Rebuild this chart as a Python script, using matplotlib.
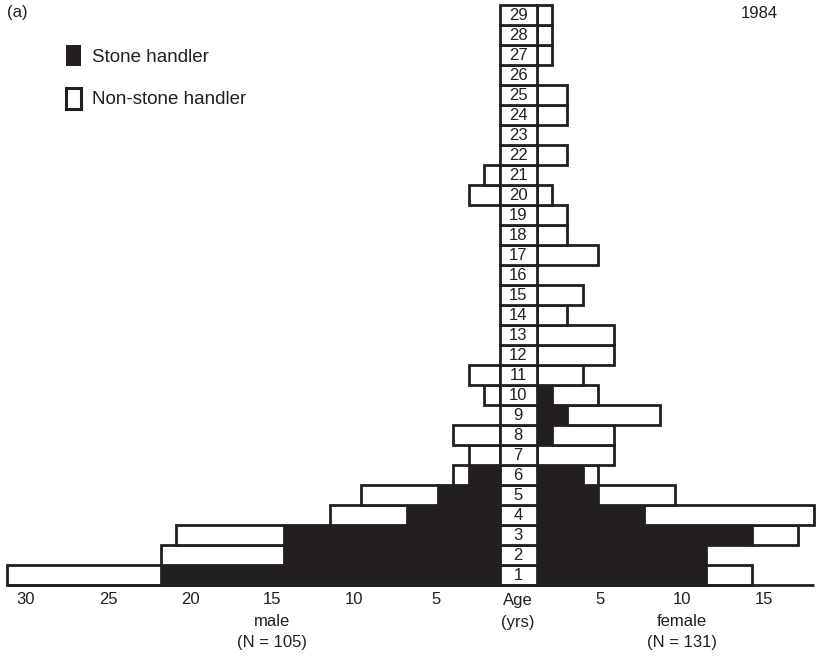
import matplotlib
matplotlib.use("Agg")
import matplotlib.pyplot as plt
from matplotlib.patches import Patch
import numpy as np

plt.rcParams['font.family'] = ['Liberation Sans', 'DejaVu Sans']

ages = list(range(1, 30))
male_stone = [22, 14, 14, 6, 4, 2, 0, 0, 0, 0, 0, 0, 0, 0, 0,
              0, 0, 0, 0, 0, 0, 0, 0, 0, 0, 0, 0, 0, 0]
male_total = [32, 22, 21, 11, 9, 3, 2, 3, 0, 1, 2, 0, 0, 0, 0,
              0, 0, 0, 0, 2, 1, 0, 0, 0, 0, 0, 0, 0, 0]
female_stone = [11, 11, 14, 7, 4, 3, 0, 1, 2, 1, 0, 0, 0, 0, 0,
                0, 0, 0, 0, 0, 0, 0, 0, 0, 0, 0, 0, 0, 0]
female_total = [14, 11, 17, 18, 9, 4, 5, 5, 8, 4, 3, 5, 5, 2, 3,
                0, 4, 2, 2, 1, 0, 2, 0, 2, 2, 0, 1, 1, 1]
male_ticks = [30, 25, 20, 15, 10, 5]
female_ticks = [5, 10, 15]
legend_labels = ["Stone handler", "Non-stone handler"]
panel_label = "(a)"
year_label = "1984"

INK = "#231f20"
W, H = 824, 658
S = 15.4            # pixels per count
CX = 518            # centre of age column in pixels
c = 18.5 / S        # half width of age column in data units
lw = 2.0

fig = plt.figure(figsize=(W / 100, H / 100), dpi=100)
ax = fig.add_axes([0, 0, 1, 1])
ax.set_xlim(-CX / S, (W - CX) / S)
ax.set_ylim(0.5 - (H - 585) / 20, 29.5 + 5 / 20)
ax.axis("off")

a = np.array(ages)
ms = np.array(male_stone); mt = np.array(male_total)
fs = np.array(female_stone); ft = np.array(female_total)
mn = mt - ms
fn = ft - fs

# male side (drawn leftwards from the column)
k = ms > 0
ax.barh(a[k], -ms[k], left=-c, height=1, color=INK, edgecolor=INK, linewidth=lw, zorder=2)
k = mn > 0
ax.barh(a[k], -mn[k], left=-c - ms[k], height=1, color="white", edgecolor=INK, linewidth=lw, zorder=3)
# female side
k = fs > 0
ax.barh(a[k], fs[k], left=c, height=1, color=INK, edgecolor=INK, linewidth=lw, zorder=2)
k = fn > 0
ax.barh(a[k], fn[k], left=c + fs[k], height=1, color="white", edgecolor=INK, linewidth=lw, zorder=3)

# centre age column
ax.barh(a, 2 * c, left=-c, height=1, color="white", edgecolor=INK, linewidth=lw, zorder=4)
for ag in ages:
    ax.text(0, ag - 0.03, str(ag), ha="center", va="center", fontsize=12, color=INK, zorder=5)

# baseline
ax.plot([-c - mt.max(), c + ft.max()], [0.5, 0.5], color=INK, lw=lw, zorder=6,
        solid_capstyle="butt")

# tick labels (spacing as printed in the reference)
kk = 16.4 / S
ylab = 0.5 - (600 - 585) / 20
fsz = 12
for v in male_ticks:
    ax.text(-v * kk, ylab, str(v), ha="center", va="center", fontsize=fsz, color=INK)
for v in female_ticks:
    ax.text(v * kk, ylab, str(v), ha="center", va="center", fontsize=fsz, color=INK)
ax.text(0, ylab, "Age", ha="center", va="center", fontsize=fsz, color=INK)
ax.text(0, 0.5 - (622 - 585) / 20, "(yrs)", ha="center", va="center", fontsize=fsz, color=INK)
ax.text(-15 * kk, 0.5 - (622 - 585) / 20, "male", ha="center", va="center", fontsize=fsz, color=INK)
ax.text(-15 * kk, 0.5 - (642 - 585) / 20, "(N = 105)", ha="center", va="center", fontsize=fsz, color=INK)
ax.text(10 * kk, 0.5 - (622 - 585) / 20, "female", ha="center", va="center", fontsize=fsz, color=INK)
ax.text(10 * kk, 0.5 - (642 - 585) / 20, "(N = 131)", ha="center", va="center", fontsize=fsz, color=INK)

fig.text(7 / W, 1 - 13 / H, panel_label, ha="left", va="center", fontsize=fsz, color=INK)
fig.text(778 / W, 1 - 13 / H, year_label, ha="right", va="center", fontsize=fsz, color=INK)

handles = [Patch(facecolor=INK, edgecolor=INK, linewidth=0),
           Patch(facecolor="white", edgecolor=INK, linewidth=2.2)]
leg = fig.legend(handles, legend_labels, loc="upper left", bbox_to_anchor=(66 / W, 1 - 45 / H),
                 frameon=False, fontsize=13.5, handlelength=0.78, handleheight=1.35,
                 handletextpad=0.6, labelspacing=1.15, borderpad=0, borderaxespad=0)
for t in leg.get_texts():
    t.set_color(INK)

fig.savefig("out.png", dpi=100)
